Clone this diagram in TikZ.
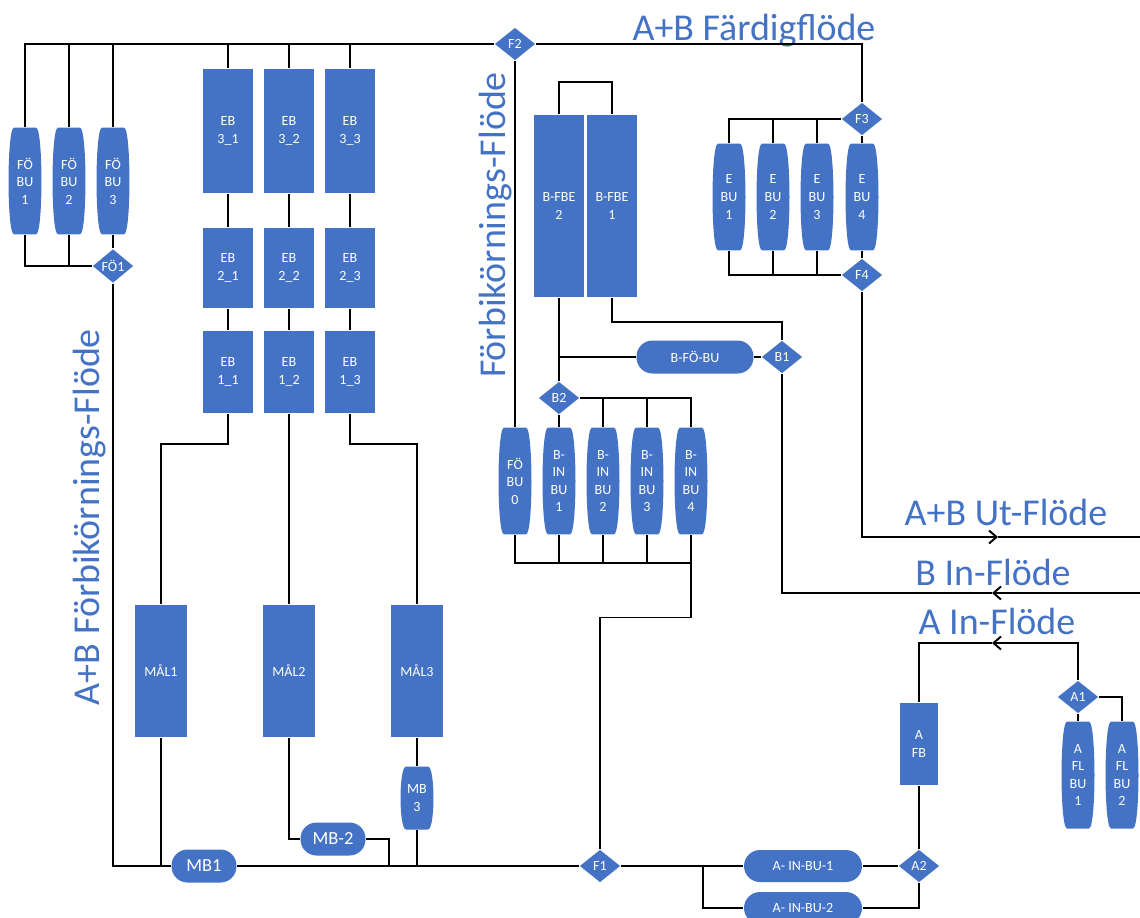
\documentclass[tikz,border=0pt]{standalone}
\usepackage{fontspec}
\setmainfont{Carlito}
\usetikzlibrary{positioning, arrows.meta, shapes.geometric, calc}
\definecolor{boxblue}{RGB}{68,114,196}
\newcommand{\nodefont}{\fontsize{8}{10}\selectfont}
\newcommand{\flowfont}{\fontsize{21.6}{26}\selectfont}
\newcommand{\pb}{path picture bounding box}
\tikzset{unit/.style={rectangle, fill=boxblue, text=white, font=\nodefont, align=center, inner sep=0pt, minimum width=1cm},
barrel/.style={rectangle, fill=white, text=white, font=\nodefont, align=center, inner sep=0pt, minimum width=0.66cm, minimum height=2.14cm,
  path picture={\fill[boxblue] ($(\pb.north)!0.66!(\pb.north east)$) .. controls ($(\pb.north)!0.92!(\pb.north east)$) and ($(\pb.east)!0.38!(\pb.north east)$) .. (\pb.east)
    .. controls ($(\pb.east)!0.38!(\pb.south east)$) and ($(\pb.south)!0.92!(\pb.south east)$) .. ($(\pb.south)!0.66!(\pb.south east)$)
    -- ($(\pb.south)!0.66!(\pb.south west)$) .. controls ($(\pb.south)!0.92!(\pb.south west)$) and ($(\pb.west)!0.38!(\pb.south west)$) .. (\pb.west)
    .. controls ($(\pb.west)!0.38!(\pb.north west)$) and ($(\pb.north)!0.92!(\pb.north west)$) .. ($(\pb.north)!0.66!(\pb.north west)$) -- cycle;}},
pill/.style={rectangle, rounded corners=0.32cm, fill=boxblue, text=white, font=\nodefont, inner sep=0pt, minimum height=0.66cm},
junc/.style={diamond, fill=boxblue, text=white, font=\nodefont, inner sep=0pt, minimum width=0.82cm, minimum height=0.66cm},
flow/.style={-{Straight Barb[length=1.5mm, width=2.6mm]}},
flowlabel/.style={text=boxblue, font=\flowfont, inner sep=0pt}}

\begin{document}
\begin{tikzpicture}[x=0.02cm, y=-0.02cm, line width=1.1pt]
  \useasboundingbox (0,0) rectangle (1140,917);
  \node[barrel] (fobu1) at (25,181) {FÖ\\BU\\1};
  \node[barrel] (fobu2) at (69,181) {FÖ\\BU\\2};
  \node[barrel] (fobu3) at (113,181) {FÖ\\BU\\3};
  \node[junc] (fo1) at (113,266) {FÖ1};
  \foreach \c/\x in {1/228,2/289,3/350} {
    \node[unit, minimum height=2.48cm] (eb3\c) at (\x,131) {EB\\3\_\c};
    \node[unit, minimum height=1.62cm] (eb2\c) at (\x,268) {EB\\2\_\c};
    \node[unit, minimum height=1.64cm] (eb1\c) at (\x,372) {EB\\1\_\c};
  }
  \node[unit, minimum width=1.04cm, minimum height=2.64cm] (mal1) at (161,671) {MÅL1};
  \node[unit, minimum width=1.04cm, minimum height=2.64cm] (mal2) at (289,671) {MÅL2};
  \node[unit, minimum width=1.04cm, minimum height=2.64cm] (mal3) at (417,671) {MÅL3};
  \node[pill, minimum width=1.3cm, font=\fontsize{10.5}{12}\selectfont] (mb1) at (204,866) {MB1};
  \node[pill, minimum width=1.3cm, font=\fontsize{10.5}{12}\selectfont] (mb2) at (333,839) {MB-2};
  \node[barrel, minimum height=1.26cm] (mb3) at (417,798) {MB\\3};
  \node[junc] (f1) at (600,866) {F1};
  \node[junc] (f2) at (515,44) {F2};
  \node[unit, minimum height=3.64cm] (bfbe2) at (559,206) {B-FBE\\2};
  \node[unit, minimum height=3.64cm] (bfbe1) at (612,206) {B-FBE\\1};
  \node[pill, minimum width=2.34cm] (bfobu) at (695,357) {B-FÖ-BU};
  \node[junc] (b1) at (782,357) {B1};
  \node[junc] (b2) at (559,398) {B2};
  \node[barrel] (fobu0) at (515,481) {FÖ\\BU\\0};
  \node[barrel] (binbu1) at (559,481) {B-\\IN\\BU\\1};
  \node[barrel] (binbu2) at (603,481) {B-\\IN\\BU\\2};
  \node[barrel] (binbu3) at (647,481) {B-\\IN\\BU\\3};
  \node[barrel] (binbu4) at (691,481) {B-\\IN\\BU\\4};
  \node[junc] (f3) at (862,119) {F3};
  \node[junc] (f4) at (862,275) {F4};
  \node[barrel] (ebu1) at (729,197) {E\\BU\\1};
  \node[barrel] (ebu2) at (773,197) {E\\BU\\2};
  \node[barrel] (ebu3) at (817,197) {E\\BU\\3};
  \node[barrel] (ebu4) at (862,197) {E\\BU\\4};
  \node[pill, minimum width=2.36cm, minimum height=0.64cm] (ainbu1) at (803,866) {A- IN-BU-1};
  \node[pill, minimum width=2.36cm, minimum height=0.64cm] (ainbu2) at (803,908) {A- IN-BU-2};
  \node[junc] (a2) at (919,866) {A2};
  \node[unit, minimum width=0.76cm, minimum height=1.64cm] (afb) at (919,744) {A\\FB};
  \node[junc] (a1) at (1078,697) {A1};
  \node[barrel] (aflbu1) at (1078,775) {A\\FL\\BU\\1};
  \node[barrel] (aflbu2) at (1122,775) {A\\FL\\BU\\2};

  \coordinate (jmb2) at (389,866);
  \coordinate (jain) at (703,866);
  \coordinate (ut) at (1140,537);
  \coordinate (utarr) at (998,537);
  \coordinate (bin) at (1140,593);
  \coordinate (binarr) at (992,593);
  \coordinate (ainarr) at (992,643);

  \node[flowlabel, anchor=base] (lblfaerdig) at (754,40) {A+B Färdigflöde};
  \node[flowlabel, anchor=base, rotate=90] (lblbypass) at (505,225) {Förbikörnings-Flöde};
  \node[flowlabel, anchor=base, rotate=90] (lblabbypass) at (99,517) {A+B Förbikörnings-Flöde};
  \node[flowlabel, anchor=base] (lblut) at (1006,525) {A+B Ut-Flöde};
  \node[flowlabel, anchor=base] (lblbin) at (993,585) {B In-Flöde};
  \node[flowlabel, anchor=base] (lblain) at (997,634) {A In-Flöde};

  \draw (fobu1.north) |- (f2.west);
  \draw (f2.east) -| (f3.north);
  \foreach \n in {fobu2,fobu3,eb31,eb32,eb33} \draw (\n.north) -- (\n.north |- f2.west);
  \draw (fobu1.south) |- (fo1.west);
  \draw (fobu2.south) -- (fobu2.south |- fo1.west);
  \draw (fobu3.south) -- (fo1.north);
  \draw (fo1.south) |- (mb1.west);
  \foreach \c in {1,2,3} {
    \draw (eb3\c.south) -- (eb2\c.north);
    \draw (eb2\c.south) -- (eb1\c.north);
  }
  \draw (eb11.south) -- ++(0,30) -| (mal1.north);
  \draw (eb12.south) -- (mal2.north);
  \draw (eb13.south) -- ++(0,30) -| (mal3.north);
  \draw (mal1.south) -- (mal1.south |- mb1.west);
  \draw (mal2.south) |- (mb2.west);
  \draw (mb2.east) -| (jmb2);
  \draw (mal3.south) -- (mb3.north);
  \draw (mb3.south) -- (mb3.south |- f1.west);
  \draw (mb1.east) -- (f1.west);

  \draw (f2.south) -- (fobu0.north);
  \draw (bfbe2.north) -- ++(0,-32) -| (bfbe1.north);
  \draw (bfbe1.south) -- ++(0,24) -| (b1.north);
  \draw (bfbe2.south) -- (b2.north);
  \draw (bfobu.west) -- (bfobu.west -| bfbe2.south);
  \draw (bfobu.east) -- (b1.west);
  \draw (b2.east) -| (binbu4.north);
  \draw (b2.south) -- (binbu1.north);
  \foreach \n in {binbu2,binbu3} \draw (\n.north) -- (\n.north |- b2.east);
  \draw (fobu0.south) -- ++(0,28) -| (binbu4.south);
  \foreach \n in {binbu1,binbu2,binbu3} \draw (\n.south) -- ++(0,28);
  \draw (binbu4.south) -- ++(0,82) -| (f1.north);
  \draw[flow] (bin) -- (binarr);
  \draw (binarr) -| (b1.south);

  \draw (f3.west) -| (ebu1.north);
  \foreach \n in {ebu2,ebu3} \draw (\n.north) -- (\n.north |- f3.west);
  \draw (f3.south) -- (ebu4.north);
  \draw (ebu1.south) |- (f4.west);
  \foreach \n in {ebu2,ebu3} \draw (\n.south) -- (\n.south |- f4.west);
  \draw (ebu4.south) -- (f4.north);
  \draw[flow] (f4.south) |- (utarr);
  \draw (utarr) -- (ut);

  \draw (f1.east) -- (ainbu1.west);
  \draw (ainbu2.west) -| (jain);
  \draw (ainbu1.east) -- (a2.west);
  \draw (ainbu2.east) -| (a2.south);
  \draw (a2.north) -- (afb.south);
  \draw (afb.north) |- (ainarr);
  \draw[flow] (a1.north) |- (ainarr);
  \draw (a1.south) -- (aflbu1.north);
  \draw (a1.east) -| (aflbu2.north);
\end{tikzpicture}
\end{document}
